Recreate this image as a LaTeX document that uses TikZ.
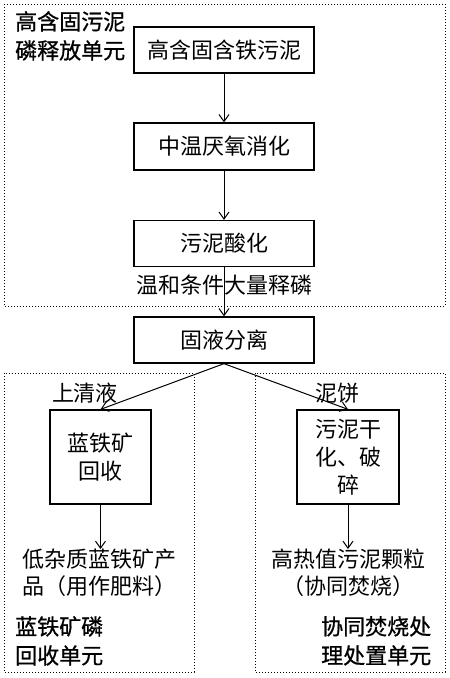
\documentclass[tikz,border=0pt]{standalone}
\usepackage{fontspec}
\setmainfont{Noto Sans CJK SC}
\newfontfamily\unitfont{Noto Sans CJK SC}[FakeBold=0.8]
\usetikzlibrary{arrows.meta}
\tikzset{
  proc/.style={draw, line width=1.3pt, align=center, inner sep=0pt, font=\fontsize{22}{28}\selectfont},
  unit/.style={draw, dotted, line width=1pt},
  lbl/.style={inner sep=0pt, font=\fontsize{22}{27}\selectfont},
  ulbl/.style={inner sep=0pt, align=left, font=\fontsize{22}{29}\selectfont\unitfont},
  flow/.style={line width=1pt, -{Straight Barb[length=7pt,width=10pt,line width=1pt]}},
}
\begin{document}
\begin{tikzpicture}[x=1pt,y=-1pt]
\useasboundingbox (0,0) rectangle (450,678);
% unit frames
\draw[unit] (4,4) rectangle (445,306);
\draw[unit] (4,373) rectangle (194,672);
\draw[unit] (255,373) rectangle (445,672);
% unit labels
\node[ulbl, anchor=north west] (u1) at (15,11) {高含固污泥\\磷释放单元};
\node[ulbl, anchor=north west] (u2) at (15,616) {蓝铁矿磷\\回收单元};
\node[ulbl, anchor=north west] (u3) at (321,616) {协同焚烧处\\理处置单元};
% process boxes
\node[proc, minimum width=180pt, minimum height=46pt] (b1) at (224,50) {高含固含铁污泥};
\node[proc, minimum width=180pt, minimum height=47pt] (b2) at (224,146.5) {中温厌氧消化};
\node[proc, minimum width=180pt, minimum height=46pt] (b3) at (224,243.5) {污泥酸化};
\node[proc, minimum width=180pt, minimum height=46pt] (b4) at (224,340) {固液分离};
\node[proc, minimum width=101pt, minimum height=94pt] (b5) at (100.5,457) {蓝铁矿\\回收};
\node[proc, minimum width=102pt, minimum height=94pt] (b6) at (348,457) {污泥干\\化、破\\碎};
% texts
\node[lbl] (t1) at (224,285) {温和条件大量释磷};
\node[lbl] (t2) at (85,393) {上清液};
\node[lbl] (t3) at (337,393) {泥饼};
\node[lbl, align=left, anchor=north west] (p1) at (22,549) {低杂质蓝铁矿产\\品（用作肥料）};
\node[lbl, align=center, anchor=north] (p2) at (348,549) {高热值污泥颗粒\\（协同焚烧）};
% connectors
\draw[flow] (b1) -- (b2);
\draw[flow] (b2) -- (b3);
\draw[flow] (b3) -- (b4);
\draw[flow] (b4.south) -- (b5.north);
\draw[flow] (b4.south) -- (b6.north);
\draw[flow] (b5.south) -- (p1.north -| b5.south);
\draw[flow] (b6.south) -- (p2.north);
\end{tikzpicture}
\end{document}
